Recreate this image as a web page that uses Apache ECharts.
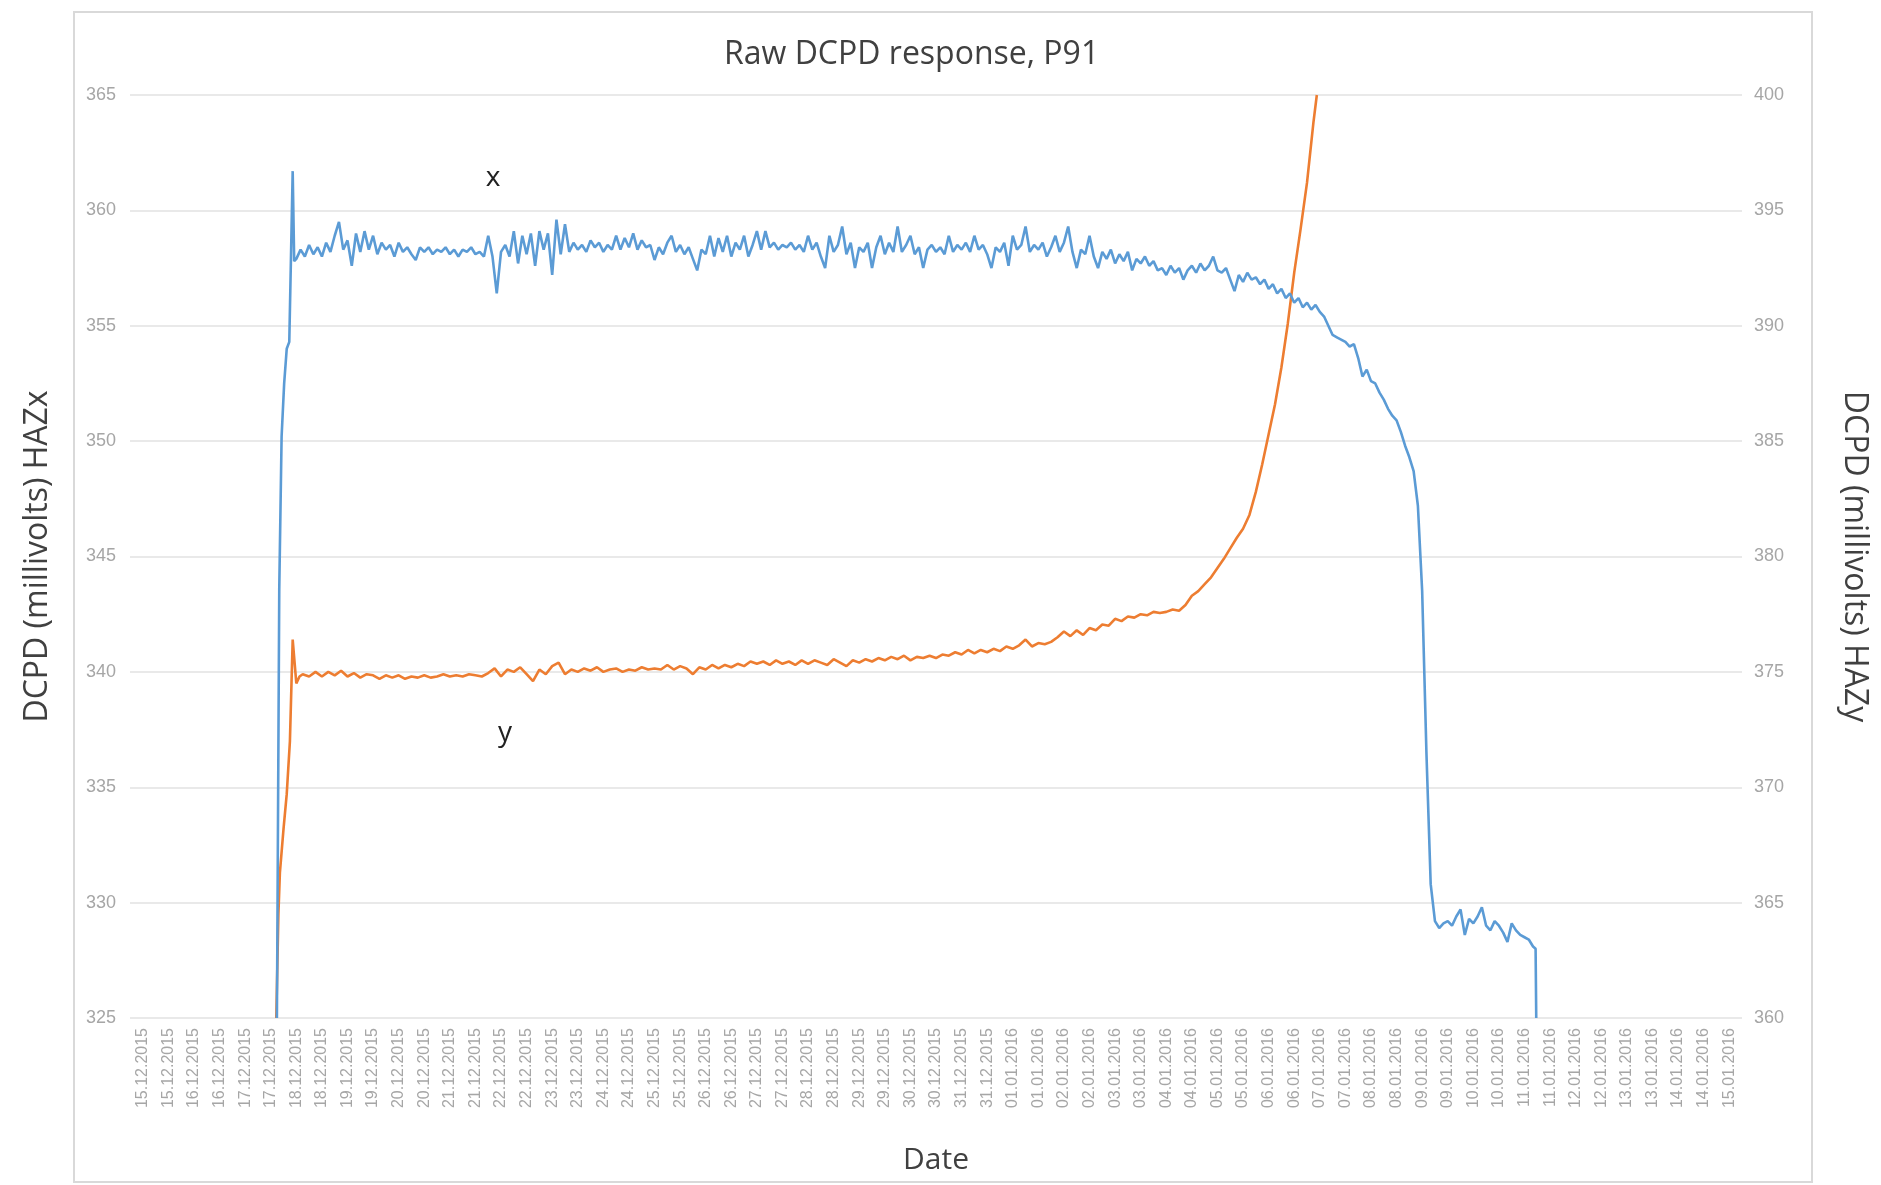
<!DOCTYPE html>
<html>
<head>
<meta charset="utf-8">
<title>Raw DCPD response, P91</title>
<script src="https://cdn.jsdelivr.net/npm/echarts@6/dist/echarts.min.js"></script>
<style>
  html, body { margin: 0; padding: 0; background: #fff; }
  #chart { width: 1881px; height: 1185px; }
</style>
</head>
<body>
<div id="chart"></div>
<script>

// x positions are hours counted from 15.12.2015 00:00, ticks every 12 h
let dateLabels = [
  '15.12.2015', '15.12.2015', '16.12.2015', '16.12.2015', '17.12.2015', '17.12.2015',
  '18.12.2015', '18.12.2015', '19.12.2015', '19.12.2015', '20.12.2015', '20.12.2015',
  '21.12.2015', '21.12.2015', '22.12.2015', '22.12.2015', '23.12.2015', '23.12.2015',
  '24.12.2015', '24.12.2015', '25.12.2015', '25.12.2015', '26.12.2015', '26.12.2015',
  '27.12.2015', '27.12.2015', '28.12.2015', '28.12.2015', '29.12.2015', '29.12.2015',
  '30.12.2015', '30.12.2015', '31.12.2015', '31.12.2015', '01.01.2016', '01.01.2016',
  '02.01.2016', '02.01.2016', '03.01.2016', '03.01.2016', '04.01.2016', '04.01.2016',
  '05.01.2016', '05.01.2016', '06.01.2016', '06.01.2016', '07.01.2016', '07.01.2016',
  '08.01.2016', '08.01.2016', '09.01.2016', '09.01.2016', '10.01.2016', '10.01.2016',
  '11.01.2016', '11.01.2016', '12.01.2016', '12.01.2016', '13.01.2016', '13.01.2016',
  '14.01.2016', '14.01.2016', '15.01.2016'
];

// HAZx (left axis)
let xRampHours = [62.9, 64.0, 65.1, 66.3, 67.5, 68.7, 70.3, 71.0];
let xRampValues = [325, 343.6, 350.2, 352.5, 354.0, 354.3, 361.7, 357.8];

let xStartHour = 72;
let xStepHours = 2;
let xValues = [
  357.9, 358.3, 358.0, 358.5, 358.1, 358.4, 358.0, 358.6, 358.2, 358.9, 359.5, 358.3,
  358.7, 357.6, 359.0, 358.2, 359.1, 358.3, 358.9, 358.1, 358.6, 358.3, 358.5, 358.0,
  358.6, 358.2, 358.4, 358.1, 357.85, 358.4, 358.2, 358.4, 358.1, 358.3, 358.2, 358.4,
  358.1, 358.3, 358.0, 358.3, 358.2, 358.4, 358.1, 358.2, 358.0, 358.9, 358.0, 356.4,
  358.2, 358.5, 358.0, 359.1, 357.7, 358.9, 358.1, 359.0, 357.6, 359.1, 358.3, 359.0,
  357.2, 359.6, 358.1, 359.4, 358.2, 358.6, 358.3, 358.5, 358.2, 358.7, 358.4, 358.6,
  358.2, 358.5, 358.3, 358.9, 358.3, 358.8, 358.4, 359.0, 358.3, 358.7, 358.4, 358.5,
  357.85, 358.4, 358.1, 358.6, 358.9, 358.2, 358.5, 358.1, 358.4, 357.9, 357.4, 358.3,
  358.1, 358.9, 358.0, 358.8, 358.2, 358.9, 358.0, 358.6, 358.3, 358.9, 358.0, 358.5,
  359.1, 358.3, 359.1, 358.4, 358.6, 358.3, 358.5, 358.4, 358.6, 358.3, 358.5, 358.2,
  358.9, 358.3, 358.6, 358.0, 357.5, 358.9, 358.2, 358.5, 359.3, 358.1, 358.6, 357.5,
  358.4, 358.2, 358.6, 357.5, 358.4, 358.9, 358.1, 358.6, 358.2, 359.3, 358.2, 358.5,
  358.9, 358.1, 358.4, 357.5, 358.3, 358.5, 358.2, 358.4, 358.1, 358.9, 358.2, 358.5,
  358.3, 358.6, 358.2, 358.9, 358.3, 358.5, 358.1, 357.5, 358.4, 358.2, 358.6, 357.6,
  358.9, 358.3, 358.5, 359.3, 358.2, 358.5, 358.3, 358.6, 358.0, 358.4, 358.9, 358.2,
  358.6, 359.3, 358.2, 357.5, 358.3, 358.1, 358.9, 358.0, 357.5, 358.2, 357.9, 358.3,
  357.7, 358.1, 357.8, 358.2, 357.4, 357.9, 357.7, 358.0, 357.6, 357.8, 357.4, 357.5,
  357.2, 357.6, 357.3, 357.5, 357.0, 357.4, 357.6, 357.3, 357.7, 357.4, 357.6, 358.0,
  357.4, 357.3, 357.5, 357.0, 356.5, 357.2, 356.9, 357.3, 357.0, 357.1, 356.8, 357.0,
  356.6, 356.8, 356.4, 356.6, 356.2, 356.4, 356.0, 356.2, 355.8, 356.0, 355.7, 355.9,
  355.6, 355.4, 355.0, 354.6, 354.5, 354.4, 354.3, 354.1, 354.2, 353.6, 352.8, 353.1,
  352.6, 352.5, 352.1, 351.8, 351.4, 351.1, 350.9, 350.4, 349.8, 349.3, 348.7, 347.2,
  343.5, 336.5, 330.8, 329.2, 328.9, 329.1, 329.2, 329.0, 329.4, 329.7, 328.6, 329.3,
  329.1, 329.4, 329.8, 329.0, 328.8, 329.2, 329.0, 328.7, 328.3, 329.1, 328.8, 328.6,
  328.5, 328.4, 328.1
];

let xEndHours = [653.2, 653.5];
let xEndValues = [328.0, 325];

// HAZy (right axis)
let yRampHours = [62.6, 63.6, 64.3, 66.0, 67.5, 69.0, 70.3, 72.0, 73.5];
let yRampValues = [360, 364.5, 366.3, 368.2, 369.7, 372.0, 376.4, 374.5, 374.8];

let yStartHour = 75;
let yStepHours = 3;
let yValues = [
  374.9, 374.8, 375.0, 374.8, 375.0, 374.85, 375.05, 374.8,
  374.95, 374.75, 374.9, 374.85, 374.7, 374.85, 374.75, 374.85,
  374.7, 374.8, 374.75, 374.85, 374.75, 374.8, 374.9, 374.8,
  374.85, 374.8, 374.9, 374.85, 374.8, 374.95, 375.15, 374.8,
  375.1, 375.0, 375.2, 374.9, 374.6, 375.1, 374.9, 375.25,
  375.4, 374.9, 375.1, 375.0, 375.15, 375.05, 375.2, 375.0,
  375.1, 375.15, 375.0, 375.1, 375.05, 375.2, 375.1, 375.15,
  375.1, 375.3, 375.1, 375.25, 375.15, 374.9, 375.2, 375.1,
  375.3, 375.15, 375.3, 375.2, 375.35, 375.25, 375.45, 375.35,
  375.45, 375.3, 375.5, 375.35, 375.45, 375.3, 375.5, 375.35,
  375.5, 375.4, 375.3, 375.55, 375.4, 375.25, 375.5, 375.4,
  375.55, 375.45, 375.6, 375.5, 375.65, 375.55, 375.7, 375.5,
  375.65, 375.6, 375.7, 375.6, 375.75, 375.7, 375.85, 375.75,
  375.95, 375.8, 375.95, 375.85, 376.0, 375.9, 376.1, 376.0,
  376.15, 376.4, 376.1, 376.25, 376.2, 376.3, 376.5, 376.75,
  376.55, 376.8, 376.6, 376.9, 376.8, 377.05, 377.0, 377.3,
  377.2, 377.4, 377.35, 377.5, 377.45, 377.6, 377.55, 377.6,
  377.7, 377.65, 377.9, 378.3, 378.5, 378.8, 379.1, 379.5,
  379.9, 380.35, 380.8, 381.2, 381.8, 382.8, 384.0, 385.3,
  386.6, 388.2, 390.1, 392.3, 394.2, 396.2, 398.8
];

let yEndHours = [550.6];
let yEndValues = [400];

let labelGrey = '#a6a6a6';
let textDark = '#404040';

function pairPoints(hours, values) {
  return hours.map((h, i) => [h, values[i]]);
}

function stepPoints(startHour, step, values) {
  return values.map((v, i) => [startHour + i * step, v]);
}

function buildSeriesData(rampHours, rampValues, startHour, step, values, endHours, endValues) {
  return pairPoints(rampHours, rampValues)
    .concat(stepPoints(startHour, step, values))
    .concat(pairPoints(endHours, endValues));
}

function renderChart() {

  let chart = echarts.init(document.getElementById('chart'), null, { renderer: 'canvas' });

  let xData = buildSeriesData(xRampHours, xRampValues, xStartHour, xStepHours, xValues, xEndHours, xEndValues);
  let yData = buildSeriesData(yRampHours, yRampValues, yStartHour, yStepHours, yValues, yEndHours, yEndValues);

  let option = {
    animation: false,
    backgroundColor: '#ffffff',
    title: {
      text: 'Raw DCPD response, P91',
      left: 719,
      top: 34,
      textStyle: {
        fontFamily: 'Open Sans',
        fontSize: 32,
        fontWeight: 'normal',
        color: textDark
      }
    },
    grid: {
      left: 130,
      right: 139,
      top: 95,
      bottom: 167,
      containLabel: false,
      outerBoundsMode: 'none'
    },
    xAxis: [
      {
        type: 'category',
        data: dateLabels,
        boundaryGap: true,
        name: 'Date',
        nameLocation: 'middle',
        nameGap: 127,
        nameTextStyle: {
          fontFamily: 'Open Sans',
          fontSize: 30,
          color: textDark
        },
        axisLine: { show: false },
        axisTick: { show: false },
        splitLine: { show: false },
        axisLabel: {
          interval: 0,
          rotate: 90,
          margin: 10,
          fontFamily: 'Liberation Sans',
          fontSize: 16,
          color: labelGrey
        }
      },
      {
        type: 'value',
        min: -6,
        max: 750,
        show: false
      }
    ],
    yAxis: [
      {
        type: 'value',
        min: 325,
        max: 365,
        interval: 5,
        name: 'DCPD (millivolts) HAZx',
        nameLocation: 'middle',
        nameGap: 76,
        nameTextStyle: {
          fontFamily: 'Open Sans',
          fontSize: 32,
          color: textDark
        },
        axisLine: { show: false },
        axisTick: { show: false },
        axisLabel: {
          margin: 14,
          fontFamily: 'Liberation Sans',
          fontSize: 18,
          color: labelGrey
        },
        splitLine: {
          show: true,
          lineStyle: { color: '#e9e9e9', width: 2 }
        }
      },
      {
        type: 'value',
        min: 360,
        max: 400,
        interval: 5,
        position: 'right',
        name: 'DCPD (millivolts) HAZy',
        nameLocation: 'middle',
        nameRotate: -90,
        nameGap: 96,
        nameTextStyle: {
          fontFamily: 'Open Sans',
          fontSize: 32,
          color: textDark
        },
        axisLine: { show: false },
        axisTick: { show: false },
        axisLabel: {
          margin: 12,
          fontFamily: 'Liberation Sans',
          fontSize: 18,
          color: labelGrey
        },
        splitLine: { show: false }
      }
    ],
    series: [
      {
        name: 'x',
        type: 'line',
        xAxisIndex: 1,
        yAxisIndex: 0,
        data: xData,
        showSymbol: false,
        clip: true,
        lineStyle: { color: '#5b9bd5', width: 2.6 },
        itemStyle: { color: '#5b9bd5' },
        z: 3
      },
      {
        name: 'y',
        type: 'line',
        xAxisIndex: 1,
        yAxisIndex: 1,
        data: yData,
        showSymbol: false,
        clip: true,
        lineStyle: { color: '#ed7d31', width: 2.6 },
        itemStyle: { color: '#ed7d31' },
        z: 2
      }
    ],
    graphic: [
      {
        type: 'rect',
        silent: true,
        z: -1,
        shape: { x: 74, y: 12, width: 1738, height: 1170 },
        style: { fill: null, stroke: '#d9d9d9', lineWidth: 2 }
      },
      {
        type: 'text',
        silent: true,
        x: 493,
        y: 178,
        style: {
          text: 'x',
          fontFamily: 'Open Sans',
          fontSize: 28,
          fill: '#222222',
          align: 'center',
          verticalAlign: 'middle'
        }
      },
      {
        type: 'text',
        silent: true,
        x: 505,
        y: 733,
        style: {
          text: 'y',
          fontFamily: 'Open Sans',
          fontSize: 28,
          fill: '#222222',
          align: 'center',
          verticalAlign: 'middle'
        }
      }
    ]
  };

  chart.setOption(option);

}

document.addEventListener('DOMContentLoaded', renderChart);

</script>
</body>
</html>
